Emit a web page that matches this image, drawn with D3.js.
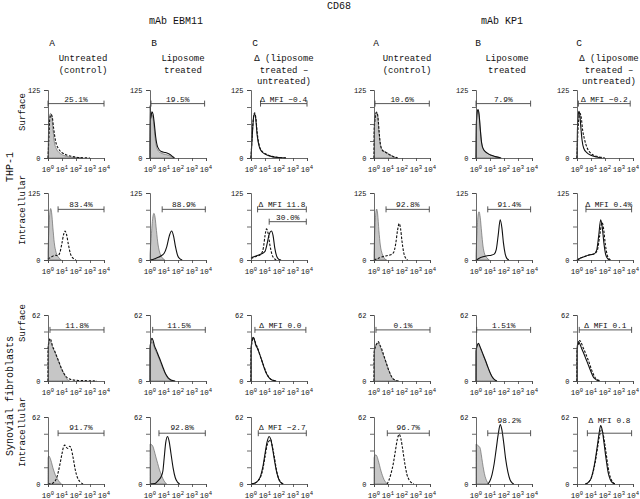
<!DOCTYPE html>
<html><head><meta charset="utf-8">
<script src="https://cdn.jsdelivr.net/npm/d3@7"></script>
<style>
body{margin:0;background:#fff}
svg{display:block}
text{font-family:"Liberation Mono","Courier New",monospace;fill:#111}
</style>
</head><body>
<svg id="chart" width="640" height="499"></svg>
<script>
// ---------- categories / labels ----------
const antibodies = ["mAb EBM11", "mAb KP1"];
const columnLetters = ["A", "B", "C"];
const columnTitles = [["Untreated", "(control)"], ["Liposome", "treated"], ["\u0394 (liposome", "treated \u2013", "untreated)"]];
const cellTypes = ["THP-1", "Synovial fibroblasts"];
const stainings = ["Surface", "Intracellular", "Surface", "Intracellular"];
const rowMax = [125, 125, 62, 62];
const decades = [0, 1, 2, 3, 4];

// ---------- histogram values: [log10 fluorescence, count] ----------
// Row 1: THP-1 surface
const r1_ebm_isoA = [[0,0],[0.03,40],[0.1,75],[0.18,82],[0.26,78],[0.35,55],[0.45,30],[0.6,17],[0.8,10],[1.1,5],[1.5,2],[2,0.5],[2.5,0]];
const r1_ebm_untrA = [[0,0],[0.05,30],[0.13,72],[0.22,80],[0.3,76],[0.4,55],[0.55,30],[0.75,17],[1.0,10],[1.4,5],[1.9,2],[2.5,0.5],[3,0]];
const r1_ebm_isoB = [[0,0],[0.02,60],[0.1,80],[0.2,76],[0.3,55],[0.4,30],[0.55,15],[0.8,9],[1.2,6],[1.5,3],[1.7,0]];
const r1_ebm_lipoB = [[0,0],[0.005,97],[0.04,72],[0.14,85],[0.22,80],[0.3,65],[0.4,40],[0.55,20],[0.8,12],[1.1,10],[1.4,7],[1.6,3],[1.75,0]];
const r1_ebm_untrC = [[0,0],[0.08,40],[0.18,75],[0.26,83],[0.34,75],[0.45,45],[0.6,22],[0.8,12],[1.1,7],[1.5,3],[2,1],[2.5,0]];
const r1_ebm_lipoC = [[0,0],[0.1,45],[0.18,74],[0.25,81],[0.33,74],[0.44,42],[0.6,20],[0.8,11],[1.1,6],[1.5,2.5],[2,0.8],[2.5,0]];
const r1_kp1_isoA = [[0,0],[0.02,60],[0.1,82],[0.18,85],[0.26,78],[0.35,50],[0.45,25],[0.6,15],[0.85,11],[1.1,7],[1.35,3],[1.6,0]];
const r1_kp1_untrA = [[0,0],[0.01,50],[0.05,65],[0.12,80],[0.2,84],[0.28,76],[0.36,50],[0.46,25],[0.6,14],[0.85,10],[1.1,6],[1.4,2.5],[1.7,0]];
const r1_kp1_isoB = [[0,0],[0.02,55],[0.08,83],[0.14,88],[0.22,80],[0.3,55],[0.4,28],[0.55,15],[0.8,9],[1.1,5],[1.4,2],[1.7,0]];
const r1_kp1_lipoB = [[0,0],[0.02,58],[0.08,84],[0.14,89],[0.22,80],[0.3,55],[0.4,28],[0.55,15],[0.8,9],[1.1,5],[1.4,2.5],[1.8,0]];
const r1_kp1_untrC = [[0,0],[0.05,40],[0.13,72],[0.22,82],[0.3,75],[0.4,52],[0.55,33],[0.7,20],[0.9,11],[1.2,5],[1.6,2],[2,0]];
const r1_kp1_lipoC = [[0,0],[0.03,50],[0.09,80],[0.14,86],[0.2,80],[0.28,55],[0.36,33],[0.48,18],[0.7,10],[1,5],[1.4,2],[1.8,0]];
// Row 2: THP-1 intracellular
const r2_ebm_isoA = [[0,15],[0.06,55],[0.13,88],[0.19,96],[0.26,88],[0.35,60],[0.45,32],[0.58,14],[0.75,5],[0.95,0]];
const r2_ebm_untrA = [[0,2],[0.2,5],[0.4,8],[0.55,9],[0.7,8],[0.85,14],[1.0,32],[1.12,48],[1.22,54],[1.32,48],[1.45,30],[1.6,12],[1.8,3],[2.0,0]];
const r2_ebm_isoB = [[0,10],[0.08,40],[0.18,75],[0.28,87],[0.36,80],[0.46,55],[0.58,28],[0.72,12],[0.88,4],[1.05,0]];
const r2_ebm_lipoB = [[0,0],[0.2,1],[0.4,3],[0.6,5],[0.8,8],[1.0,12],[1.2,25],[1.38,45],[1.54,54],[1.68,45],[1.82,25],[1.98,8],[2.15,2],[2.3,0]];
const r2_ebm_untrC = [[0,3],[0.2,5],[0.4,7],[0.6,9],[0.75,12],[0.88,22],[1.0,45],[1.11,58],[1.22,50],[1.35,28],[1.5,10],[1.65,3],[1.8,0]];
const r2_ebm_lipoC = [[0,4],[0.2,6],[0.4,8],[0.6,10],[0.8,12],[1.0,16],[1.15,30],[1.3,48],[1.45,54],[1.58,45],[1.7,22],[1.85,6],[2.0,1],[2.15,0]];
const r2_kp1_isoA = [[0,12],[0.06,55],[0.13,88],[0.19,95],[0.26,86],[0.35,55],[0.45,28],[0.58,12],[0.72,4],[0.9,0]];
const r2_kp1_untrA = [[0,0],[0.3,3],[0.6,6],[0.9,8],[1.2,10],[1.4,14],[1.55,30],[1.68,55],[1.8,68],[1.9,58],[2.0,35],[2.12,14],[2.25,4],[2.4,0]];
const r2_kp1_isoB = [[0,10],[0.07,50],[0.15,84],[0.22,90],[0.3,80],[0.4,52],[0.5,26],[0.62,11],[0.78,4],[0.95,0]];
const r2_kp1_lipoB = [[0,0],[0.2,3],[0.5,6],[0.8,8],[1.1,9],[1.3,11],[1.45,20],[1.58,45],[1.73,75],[1.85,60],[1.96,32],[2.08,12],[2.2,3],[2.35,0]];
const r2_kp1_untrC = [[0,0],[0.2,3],[0.5,6],[0.8,9],[1.0,10],[1.2,11],[1.45,18],[1.62,45],[1.79,70],[1.9,58],[2.02,30],[2.15,10],[2.3,2],[2.45,0]];
const r2_kp1_lipoC = [[0,0],[0.2,3],[0.5,6],[0.8,9],[1.0,10],[1.2,11],[1.4,18],[1.55,45],[1.69,75],[1.8,62],[1.92,32],[2.05,10],[2.2,2],[2.35,0]];
// Row 3: synovial fibroblasts surface
const r3_ebm_isoA = [[0,0],[0.005,32],[0.08,37],[0.15,38],[0.25,35],[0.35,31],[0.5,27],[0.65,22],[0.8,17],[0.95,12],[1.1,8],[1.25,4],[1.4,1],[1.55,0]];
const r3_ebm_untrA = [[0,0],[0.005,30],[0.06,36],[0.15,40],[0.22,38],[0.32,33],[0.45,29],[0.6,24],[0.78,18],[0.95,12],[1.1,8],[1.3,4],[1.6,1.5],[2.2,0.5],[3,0.2],[3.5,0]];
const r3_ebm_isoB = [[0,0],[0.005,33],[0.08,36],[0.15,37],[0.25,34],[0.35,30],[0.5,26],[0.65,21],[0.8,16],[0.95,11],[1.1,7],[1.25,3],[1.4,1],[1.55,0]];
const r3_ebm_lipoB = [[0,0],[0.005,30],[0.06,37],[0.14,40],[0.22,38],[0.32,33],[0.45,29],[0.6,24],[0.78,18],[0.95,12],[1.1,7],[1.3,3],[1.5,1],[1.8,0]];
const r3_ebm_untrC = [[0,0],[0.005,28],[0.08,37],[0.17,41],[0.26,38],[0.35,35],[0.47,31],[0.62,25],[0.8,18],[0.97,12],[1.12,7],[1.3,3],[1.5,1],[1.8,0]];
const r3_ebm_lipoC = [[0,0],[0.005,30],[0.07,38],[0.15,41],[0.24,39],[0.33,34],[0.45,31],[0.6,26],[0.78,19],[0.95,12],[1.1,7],[1.3,3],[1.5,1],[1.8,0]];
const r3_kp1_isoA = [[0,0],[0.005,28],[0.1,33],[0.2,35],[0.3,36],[0.42,33],[0.55,28],[0.7,23],[0.85,18],[1.0,12],[1.15,7],[1.3,3],[1.45,1],[1.6,0]];
const r3_kp1_untrA = [[0,0],[0.005,26],[0.1,32],[0.2,35],[0.3,37],[0.42,34],[0.55,30],[0.7,24],[0.85,18],[1.0,12],[1.15,7],[1.3,3],[1.5,1],[1.8,0]];
const r3_kp1_isoB = [[0,0],[0.005,28],[0.08,33],[0.17,35],[0.28,32],[0.4,28],[0.55,23],[0.7,18],[0.85,13],[1.0,8],[1.15,4],[1.3,1.5],[1.45,0]];
const r3_kp1_lipoB = [[0,0],[0.005,28],[0.08,33],[0.17,35.5],[0.28,32.5],[0.4,28.5],[0.55,23.5],[0.7,18.5],[0.85,13],[1.0,8],[1.15,4],[1.3,1.5],[1.5,0]];
const r3_kp1_untrC = [[0,0],[0.005,28],[0.1,35],[0.2,38],[0.3,36],[0.42,32],[0.55,28],[0.7,23],[0.85,18],[1.0,12],[1.15,7],[1.3,3],[1.5,1],[1.7,0]];
const r3_kp1_lipoC = [[0,0],[0.005,30],[0.05,35],[0.1,37],[0.2,35],[0.32,31],[0.45,27],[0.6,22],[0.75,17],[0.9,12],[1.05,7],[1.2,3],[1.4,1],[1.6,0]];
// Row 4: synovial fibroblasts intracellular
const r4_ebm_isoA = [[0,0],[0.005,24],[0.06,26],[0.15,24],[0.25,20],[0.35,15],[0.45,11],[0.55,7.5],[0.68,4.5],[0.82,1.8],[0.96,0]];
const r4_ebm_untrA = [[0,0],[0.3,0.5],[0.45,2],[0.62,5.5],[0.75,12],[0.88,20],[1.0,28],[1.1,34],[1.2,36],[1.3,34],[1.42,33],[1.55,35],[1.65,33],[1.8,24],[1.95,13],[2.1,6],[2.3,2],[2.5,0]];
const r4_ebm_isoB = [[0,0],[0.005,37],[0.1,36.5],[0.2,35],[0.3,31],[0.42,25],[0.55,19],[0.68,13],[0.8,9],[0.92,5],[1.05,2],[1.18,0]];
const r4_ebm_lipoB = [[0,0],[0.35,0.5],[0.5,2],[0.65,4],[0.8,7],[0.92,12],[1.02,25],[1.12,38],[1.25,44],[1.36,40],[1.5,28],[1.65,15],[1.8,6],[1.95,2],[2.12,0]];
const r4_ebm_untrC = [[0,0],[0.3,1],[0.5,3],[0.7,7],[0.85,14],[1.0,25],[1.15,36],[1.3,40],[1.4,41],[1.52,35],[1.68,24],[1.82,13],[1.98,5],[2.15,1.5],[2.35,0]];
const r4_ebm_lipoC = [[0,0],[0.3,1],[0.5,3],[0.7,8],[0.85,16],[1.0,28],[1.15,39],[1.3,44],[1.42,41],[1.55,32],[1.7,20],[1.85,10],[2.0,4],[2.15,1],[2.3,0]];
const r4_kp1_isoA = [[0,0],[0.005,24],[0.05,26],[0.12,27],[0.2,26],[0.3,22],[0.4,17],[0.5,12],[0.6,8],[0.72,4],[0.85,1.5],[0.97,0]];
const r4_kp1_untrA = [[0.93,0],[1.05,3],[1.2,9],[1.38,19],[1.52,30],[1.66,41],[1.8,46],[1.92,42],[2.05,32],[2.2,19],[2.35,9],[2.5,4],[2.65,1.5],[2.85,0]];
const r4_kp1_isoB = [[0,0],[0.005,37],[0.1,36],[0.2,35],[0.3,33],[0.38,27],[0.46,20],[0.55,13],[0.65,7],[0.76,3],[0.88,0]];
const r4_kp1_lipoB = [[0.85,0],[1.0,3],[1.15,9],[1.3,19],[1.45,33],[1.6,47],[1.73,55],[1.85,50],[1.98,38],[2.12,23],[2.28,11],[2.43,4],[2.58,1],[2.7,0]];
const r4_kp1_untrC = [[0.6,0],[0.85,2],[1.0,5],[1.15,11],[1.3,20],[1.45,32],[1.6,44],[1.75,50],[1.87,46],[2.0,36],[2.15,22],[2.3,10],[2.45,4],[2.6,1],[2.75,0]];
const r4_kp1_lipoC = [[0.6,0],[0.85,2],[1.0,5],[1.15,12],[1.3,22],[1.45,35],[1.58,47],[1.69,54],[1.8,50],[1.93,38],[2.08,23],[2.22,11],[2.38,4],[2.55,1],[2.7,0]];

// ---------- gate markers: label text, [from, to] in log10 units, height in counts ----------
const gateLabels = [
  ["25.1%", "19.5%", "\u0394 MFI \u22120.4", "10.6%", "7.9%", "\u0394 MFI \u22120.2"],
  ["83.4%", "88.9%", "\u0394 MFI 11.8", "92.8%", "91.4%", "\u0394 MFI 0.4%"],
  ["11.8%", "11.5%", "\u0394 MFI 0.0", "0.1%", "1.51%", "\u0394 MFI 0.1"],
  ["91.7%", "92.8%", "\u0394 MFI \u22122.7", "96.7%", "98.2%", "\u0394 MFI 0.8"]
];
const gateRanges = [
  [[0,4],[0.07,3.9],[0.68,4],[0.07,3.95],[0,3.9],[0.1,3.8]],
  [[0.72,4],[0.87,3.95],[0.47,3.95],[0.86,3.95],[0.84,3.9],[0.64,3.9]],
  [[0.14,4],[0.19,3.95],[0.28,3.92],[0.14,4],[0.05,3.9],[0.16,3.9]],
  [[0.72,4],[0.64,3.95],[0.52,3.95],[0.95,3.95],[0.84,3.9],[0.74,3.9]]
];
const gateHeights = [100, 94.5, 48, 47];
const extraGateLabel = "30.0%";      // second gate, THP-1 intracellular, EBM11 C
const extraGateRange = [1.3, 3.95];
const extraGateHeight = 71.5;

// ---------- assemble panels ----------
const series = [
  [[r1_ebm_isoA, r1_ebm_untrA, null],[r1_ebm_isoB, null, r1_ebm_lipoB],[null, r1_ebm_untrC, r1_ebm_lipoC],
   [r1_kp1_isoA, r1_kp1_untrA, null],[r1_kp1_isoB, null, r1_kp1_lipoB],[null, r1_kp1_untrC, r1_kp1_lipoC]],
  [[r2_ebm_isoA, r2_ebm_untrA, null],[r2_ebm_isoB, null, r2_ebm_lipoB],[null, r2_ebm_untrC, r2_ebm_lipoC],
   [r2_kp1_isoA, r2_kp1_untrA, null],[r2_kp1_isoB, null, r2_kp1_lipoB],[null, r2_kp1_untrC, r2_kp1_lipoC]],
  [[r3_ebm_isoA, r3_ebm_untrA, null],[r3_ebm_isoB, null, r3_ebm_lipoB],[null, r3_ebm_untrC, r3_ebm_lipoC],
   [r3_kp1_isoA, r3_kp1_untrA, null],[r3_kp1_isoB, null, r3_kp1_lipoB],[null, r3_kp1_untrC, r3_kp1_lipoC]],
  [[r4_ebm_isoA, r4_ebm_untrA, null],[r4_ebm_isoB, null, r4_ebm_lipoB],[null, r4_ebm_untrC, r4_ebm_lipoC],
   [r4_kp1_isoA, r4_kp1_untrA, null],[r4_kp1_isoB, null, r4_kp1_lipoB],[null, r4_kp1_untrC, r4_kp1_lipoC]]
];

// ---------- layout ----------
const colX = [48, 150, 251, 374, 476, 577];
const panelW = 56;
const rowY = [[90,158],[193,260],[315,381],[417,484]];
const labelLift = [[2,2,2,2,2,2],[2,2,2,2,2,2],[2,2,2,2,2,2],[3,3,3,3,10,10]];

const svg = d3.select("#chart");

// header
svg.append("text").attr("x", 339).attr("y", 9).attr("text-anchor","middle").attr("font-size",10).text("CD68");
const abX = [176, 502];
antibodies.forEach((t,i)=> svg.append("text").attr("x",abX[i]).attr("y",24).attr("text-anchor","middle").attr("font-size",10).text(t));
const letterX = [52,154,255,376,478,579];
const titleX = [83,183,284,407,507,609];
colX.forEach((cx,c)=>{
  svg.append("text").attr("x",letterX[c]).attr("y",46).attr("text-anchor","middle").attr("font-size",9.5).text(columnLetters[c%3]);
  columnTitles[c%3].forEach((line,k)=>{
    svg.append("text").attr("x",titleX[c]).attr("y",61+k*11.7).attr("text-anchor","middle").attr("font-size",9).text(line);
  });
});

// row side labels
function vtext(x,y,t,fs){
  svg.append("text").attr("transform",`translate(${x},${y}) rotate(-90)`).attr("text-anchor","middle")
     .attr("font-size",fs).text(t);
}
vtext(13,167,cellTypes[0],10);
vtext(13,396,cellTypes[1],10);
const stainY = [112,210,323,432];
stainings.forEach((t,i)=>vtext(25,stainY[i],t,9));

const area = (x,y)=>d3.area().x(d=>x(d[0])).y0(y(0)).y1(d=>y(d[1])).curve(d3.curveMonotoneX);
const line = (x,y)=>d3.line().x(d=>x(d[0])).y(d=>y(d[1])).curve(d3.curveMonotoneX);

rowY.forEach(([top,bot],r)=>{
  const max = rowMax[r];
  colX.forEach((x0,c)=>{
    const x = d3.scaleLinear().domain([0,4]).range([x0,x0+panelW]);
    const y = d3.scaleLinear().domain([0,max]).range([bot,top]);
    const g = svg.append("g");
    const [iso,untr,lipo] = series[r][c];
    if(iso) g.append("path").datum(iso).attr("d",area(x,y)).attr("fill","#c6c6c6").attr("stroke","#6a6a6a").attr("stroke-width",0.7);
    if(untr) g.append("path").datum(untr).attr("d",line(x,y)).attr("fill","none").attr("stroke","#111").attr("stroke-width",1.1).attr("stroke-dasharray","2.5,1.5");
    if(lipo) g.append("path").datum(lipo).attr("d",line(x,y)).attr("fill","none").attr("stroke","#111").attr("stroke-width",1.1);

    // axes
    const ya = g.append("g").attr("transform",`translate(${x0},0)`)
      .call(d3.axisLeft(y).tickValues([0,max/4,max/2,3*max/4,max]).tickSize(4)
        .tickFormat(v=> (v===0||v===max)? String(v):""));
    ya.selectAll("text").attr("font-size",7).attr("font-family","Liberation Mono, monospace").attr("fill","#222").attr("dx",-0.5);
    const xa = g.append("g").attr("transform",`translate(0,${bot})`)
      .call(d3.axisBottom(x).tickValues(decades).tickSize(3).tickFormat(""));
    [ya,xa].forEach(a=>{a.select(".domain").attr("stroke","#444").attr("stroke-width",0.8);a.selectAll("line").attr("stroke","#444").attr("stroke-width",0.8);});
    decades.forEach(d=>{
      const t = g.append("text").attr("x",x(d)).attr("y",bot+14).attr("text-anchor","middle").attr("font-size",7.5);
      t.append("tspan").text("10");
      t.append("tspan").attr("font-size",5.5).attr("dy",-3).text(String(d));
    });

    // gates
    const drawGate = (range,h,label,lift)=>{
      const gy = y(h);
      const gg = g.append("g").attr("stroke","#444").attr("stroke-width",0.9);
      gg.append("line").attr("x1",x(range[0])).attr("x2",x(range[1])).attr("y1",gy).attr("y2",gy);
      gg.append("line").attr("x1",x(range[0])).attr("x2",x(range[0])).attr("y1",gy-3).attr("y2",gy+3);
      gg.append("line").attr("x1",x(range[1])).attr("x2",x(range[1])).attr("y1",gy-3).attr("y2",gy+3);
      g.append("text").attr("x",(x(range[0])+x(range[1]))/2).attr("y",gy-lift).attr("text-anchor","middle")
        .attr("font-size",7.8).text(label);
    };
    drawGate(gateRanges[r][c],gateHeights[r],gateLabels[r][c],labelLift[r][c]);
    if(r===1 && c===2) drawGate(extraGateRange,extraGateHeight,extraGateLabel,2);
  });
});
</script>
</body></html>
